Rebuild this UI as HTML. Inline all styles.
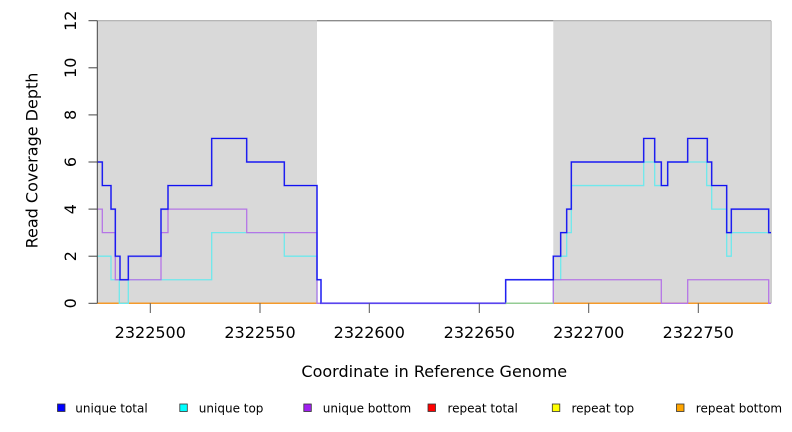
<!DOCTYPE html>
<html>
<head>
<meta charset="utf-8">
<style>
  html, body { margin: 0; padding: 0; background: #ffffff; }
  svg { display: block; }
  text { font-family: "DejaVu Sans", "Liberation Sans", sans-serif; fill: #000; }
</style>
</head>
<body>
<svg width="792" height="432" viewBox="0 0 792 432" xmlns="http://www.w3.org/2000/svg">
  <rect x="0" y="0" width="792" height="432" fill="#ffffff"/>

  <!-- top border in white region -->
  <line x1="97.3" y1="20.7" x2="771" y2="20.7" stroke="#8c8c8c" stroke-width="1.3"/>

  <!-- gray shaded regions -->
  <rect x="97.3" y="20.7" width="219.7" height="282.6" fill="#d9d9d9"/>
  <rect x="553.3" y="20.7" width="217.7" height="282.6" fill="#d9d9d9"/>
  <line x1="97.3" y1="20.9" x2="317" y2="20.9" stroke="#c4c4c4" stroke-width="1.2"/>
  <line x1="553.3" y1="20.9" x2="771" y2="20.9" stroke="#c4c4c4" stroke-width="1.2"/>
  <line x1="771.2" y1="20.7" x2="771.2" y2="303.3" stroke="#b8b8b8" stroke-width="1"/>

  <!-- repeat bottom (orange) baseline -->
  <g stroke="#f59a2a" stroke-width="1.5" fill="none">
    <line x1="97.3" y1="303.3" x2="317" y2="303.3"/>
    <line x1="553.3" y1="303.3" x2="771" y2="303.3"/>
  </g>

  <!-- unique top (cyan) -->
  <path fill="none" stroke="#6ee8ec" stroke-width="1.3" stroke-linejoin="miter"
    d="M97.3,256.2 H111 V279.75 H119.3 V303.3 H128.3 V279.75 H211.7 V232.65 H284.3 V256.2 H317 V303.3 H553.3 V279.75 H560.7 V256.2 H566.7 V232.65 H571.3 V185.55 H643.7 V162 H654.7 V185.55 H667.7 V162 H706.7 V185.55 H711.7 V209.1 H726.7 V256.2 H731.3 V232.65 H771"/>

  <!-- unique bottom (purple) -->
  <path fill="none" stroke="#b575e6" stroke-width="1.3"
    d="M97.3,209.1 H102.3 V232.65 H115.3 V279.75 H161 V232.65 H168 V209.1 H246.7 V232.65 H317 V303.3 H553.3 V279.75 H661.3 V303.3 H687.7 V279.75 H768.7 V303.3 H771"/>

  <!-- unique total (blue) underlay halo -->
  <path fill="none" stroke="#6a6af2" stroke-width="2" opacity="0.45"
    d="M97.3,162 H102.3 V185.55 H111 V209.1 H115.3 V256.2 H120 V279.75 H128.3 V256.2 H161 V209.1 H168 V185.55 H211.7 V138.45 H246.7 V162 H284.3 V185.55 H317 V279.75 H321 V303.3 H505.7 V279.75 H553.3 V256.2 H560.7 V232.65 H566.7 V209.1 H571.3 V162 H643.7 V138.45 H654.7 V162 H661.3 V185.55 H667.7 V162 H687.7 V138.45 H707.3 V162 H711.7 V185.55 H726.7 V232.65 H731.3 V209.1 H768.7 V232.65 H771"/>
  <!-- unique total (blue) -->
  <path fill="none" stroke="#1010f2" stroke-width="1.2"
    d="M97.3,162 H102.3 V185.55 H111 V209.1 H115.3 V256.2 H120 V279.75 H128.3 V256.2 H161 V209.1 H168 V185.55 H211.7 V138.45 H246.7 V162 H284.3 V185.55 H317 V279.75 H321 V303.3 H505.7 V279.75 H553.3 V256.2 H560.7 V232.65 H566.7 V209.1 H571.3 V162 H643.7 V138.45 H654.7 V162 H661.3 V185.55 H667.7 V162 H687.7 V138.45 H707.3 V162 H711.7 V185.55 H726.7 V232.65 H731.3 V209.1 H768.7 V232.65 H771"/>

  <!-- bottom segment mixing colors in white zone -->
  <line x1="321" y1="303.3" x2="505.7" y2="303.3" stroke="#5a44ee" stroke-width="1.5"/>
  <line x1="505.7" y1="303.3" x2="553.3" y2="303.3" stroke="#94cc94" stroke-width="1.5"/>

  <!-- y axis -->
  <g stroke="#444" stroke-width="1">
    <line x1="97.3" y1="20.7" x2="97.3" y2="303.3"/>
    <line x1="88.5" y1="303.3" x2="97.3" y2="303.3"/>
    <line x1="88.5" y1="256.2" x2="97.3" y2="256.2"/>
    <line x1="88.5" y1="209.1" x2="97.3" y2="209.1"/>
    <line x1="88.5" y1="162" x2="97.3" y2="162"/>
    <line x1="88.5" y1="114.9" x2="97.3" y2="114.9"/>
    <line x1="88.5" y1="67.8" x2="97.3" y2="67.8"/>
    <line x1="88.5" y1="20.7" x2="97.3" y2="20.7"/>
  </g>
  <g font-size="16" text-anchor="middle">
    <text transform="translate(75.8,303.3) rotate(-90)">0</text>
    <text transform="translate(75.8,256.2) rotate(-90)">2</text>
    <text transform="translate(75.8,209.1) rotate(-90)">4</text>
    <text transform="translate(75.8,162) rotate(-90)">6</text>
    <text transform="translate(75.8,114.9) rotate(-90)">8</text>
    <text transform="translate(75.8,67.8) rotate(-90)">10</text>
    <text transform="translate(75.8,20.7) rotate(-90)">12</text>
  </g>
  <text font-size="16" text-anchor="middle" transform="translate(37.5,160.5) rotate(-90)">Read Coverage Depth</text>

  <!-- x axis ticks -->
  <g stroke="#555" stroke-width="1">
    <line x1="150.3" y1="303.3" x2="150.3" y2="313"/>
    <line x1="260" y1="303.3" x2="260" y2="313"/>
    <line x1="369.3" y1="303.3" x2="369.3" y2="313"/>
    <line x1="479.3" y1="303.3" x2="479.3" y2="313"/>
    <line x1="588.7" y1="303.3" x2="588.7" y2="313"/>
    <line x1="698.3" y1="303.3" x2="698.3" y2="313"/>
  </g>
  <g font-size="16" text-anchor="middle">
    <text x="150.3" y="338">2322500</text>
    <text x="260" y="338">2322550</text>
    <text x="369.3" y="338">2322600</text>
    <text x="479.3" y="338">2322650</text>
    <text x="588.7" y="338">2322700</text>
    <text x="698.3" y="338">2322750</text>
  </g>
  <text x="434.3" y="377" font-size="16" text-anchor="middle">Coordinate in Reference Genome</text>

  <!-- legend -->
  <g stroke="#333" stroke-width="0.8">
    <rect x="57.5" y="404" width="7.5" height="7.5" fill="#0000ff"/>
    <rect x="179.8" y="404" width="7.5" height="7.5" fill="#00ffff"/>
    <rect x="303.8" y="404" width="7.5" height="7.5" fill="#a020f0"/>
    <rect x="428" y="404" width="7.5" height="7.5" fill="#ff0000"/>
    <rect x="552.3" y="404" width="7.5" height="7.5" fill="#ffff00"/>
    <rect x="676.5" y="404" width="7.5" height="7.5" fill="#ffa500"/>
  </g>
  <g font-size="12">
    <text x="75.3" y="412.5">unique total</text>
    <text x="198.8" y="412.5">unique top</text>
    <text x="322.8" y="412.5">unique bottom</text>
    <text x="447.5" y="412.5">repeat total</text>
    <text x="571.5" y="412.5">repeat top</text>
    <text x="695.8" y="412.5">repeat bottom</text>
  </g>
</svg>
</body>
</html>
